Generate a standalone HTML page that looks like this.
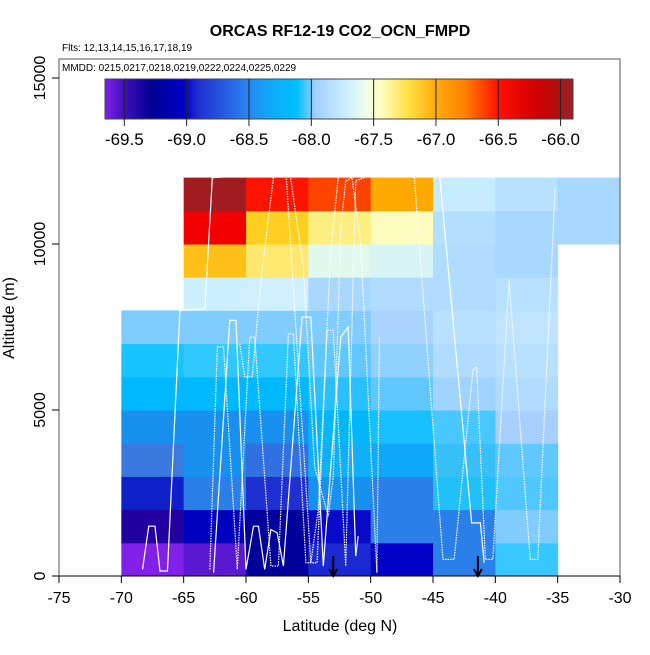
<!DOCTYPE html>
<html><head><meta charset="utf-8"><style>
body{margin:0;background:#fff;}
svg text{font-family:"Liberation Sans",sans-serif;}
</style></head><body>
<svg id="chart" width="650" height="650" xmlns="http://www.w3.org/2000/svg">
<defs>
<linearGradient id="cbg" x1="0" x2="1" y1="0" y2="0">
<stop offset="0" stop-color="#8020e8"/><stop offset="0.04" stop-color="#4010c0"/>
<stop offset="0.1" stop-color="#000090"/><stop offset="0.17" stop-color="#0000c8"/>
<stop offset="0.2" stop-color="#2030d0"/><stop offset="0.3" stop-color="#2a80f0"/>
<stop offset="0.35" stop-color="#10a8f8"/><stop offset="0.41" stop-color="#00c0ff"/>
<stop offset="0.45" stop-color="#a0d0ff"/><stop offset="0.52" stop-color="#d0f0ff"/>
<stop offset="0.56" stop-color="#f0ffe8"/><stop offset="0.59" stop-color="#ffffc0"/>
<stop offset="0.65" stop-color="#ffe040"/><stop offset="0.7" stop-color="#ffb010"/>
<stop offset="0.77" stop-color="#ff8000"/><stop offset="0.84" stop-color="#ff1000"/>
<stop offset="0.92" stop-color="#d00000"/><stop offset="0.972" stop-color="#b01010"/>
<stop offset="0.975" stop-color="#a01c20"/><stop offset="1" stop-color="#a01c20"/>
</linearGradient>
</defs>
<g id="cells"></g>
<g id="tracks"></g>
<g id="axes"></g>
<text x="340" y="36" text-anchor="middle" font-size="16" font-weight="bold">ORCAS RF12-19 CO2_OCN_FMPD</text>
<text x="62" y="51" font-size="10">Flts: 12,13,14,15,16,17,18,19</text>
<text x="62" y="71" font-size="10">MMDD: 0215,0217,0218,0219,0222,0224,0225,0229</text>
<text x="340" y="631" text-anchor="middle" font-size="16">Latitude (deg N)</text>
<text transform="translate(14,318) rotate(-90)" text-anchor="middle" font-size="16">Altitude (m)</text>
<g id="cbar"></g>
</svg>
<script>
const latBins=[-70,-65,-60,-55,-50,-45,-40,-35];
const altBins=[0,1000,2000,3000,4000,5000,6000,7000,8000,9000,10000,11000];
const cellColors=[
["#8020e8","#5a18d0","#00009a","#1a2ad0","#0000c8","#2a80e8","#38c8ff",null],
["#2000a0","#0000c0","#00009a","#0808c8","#2a80e8","#2a80e8","#80ccff",null],
["#1020c8","#2a80e8","#2030d0","#1890f0","#2a80e8","#20c0f8","#50c8ff",null],
["#3a7ae0","#1890f0","#3070e0","#10b0f8","#10a8f8","#38c0f8","#60c8ff",null],
["#1890f0","#1890f0","#1890f0","#00b8f8","#18c0ff","#48c8ff","#a8d0ff",null],
["#00b8ff","#00b8ff","#00b8ff","#28c0ff","#60c8ff","#a0d4ff","#b0dcff",null],
["#18c4ff","#30c8ff","#30c8ff","#60c8ff","#90d0ff","#b0dcff","#b8e0ff",null],
["#80ccff","#80ccff","#80ccff","#80ccff","#a8d4ff","#b8e0ff","#c0e4ff",null],
[null,"#ccf0ff","#d0f0ff","#a8d8ff","#b0dcff","#b0dcff","#b8e0ff",null],
[null,"#ffc018","#ffe870","#e0f8ee","#d8f4f4","#b0dcff","#a8d8ff",null],
[null,"#f00000","#ffd020","#ffee80","#fffcc0","#b4e0ff","#a8d8ff","#a8d8ff"],
[null,"#a01c20","#ff1400","#ff4400","#ffa800","#c8ecff","#b8e0ff","#a8d8ff"]
];
const xTicks=[-75,-70,-65,-60,-55,-50,-45,-40,-35,-30];
const yTicks=[0,5000,10000,15000];
const cbTicks=[-69.5,-69.0,-68.5,-68.0,-67.5,-67.0,-66.5,-66.0];
const arrowLats=[-53,-41.4];
const trackA=[[-68.3,200],[-67.8,1500],[-67.3,1500],[-66.9,150],[-66.3,150],[-65.3,8000],[-63.3,8050],[-62.7,12000],[-60.5,12050]];
const trackB=[[-62.9,200],[-62.3,6900],[-61.8,6900],[-60.7,200],[-59.7,7200],[-59.3,7200],[-58,300],[-57.4,300],[-56.6,7300],[-56.2,7300],[-55.2,400],[-54.3,400],[-53.5,7400],[-53,7400],[-52,300],[-51.2,11900],[-50.5,12000]];
const trackC=[[-62.6,100],[-61.3,7700],[-60.8,7700],[-60,200],[-59.4,1500],[-59,1500],[-58.5,200],[-58,1400],[-57.5,1300],[-57,300],[-55.5,7800],[-54.8,7800],[-53.8,300],[-52.4,7200],[-51.8,7500],[-51.2,600],[-51,1200]];
const trackD=[[-60.5,7000],[-60.1,6000],[-59.5,6000],[-58.8,8900],[-57.8,12000]];
const trackE=[[-56.5,12200],[-55.4,9300],[-54.5,3300],[-53.4,1800],[-53,3000],[-52.4,10500],[-52,11900],[-51.5,12000],[-50.8,10000],[-49.5,100],[-49.3,7200]];
const trackF=[[-46.5,12000],[-44.2,500],[-43.3,500],[-41.8,6200],[-41.5,6300],[-40.8,500],[-40.2,500],[-38.9,8900],[-37.2,500],[-36.6,500],[-35.2,11700]];
const trackG=[[-44.5,12200],[-41.9,1600],[-41.2,1600],[-40.9,400]];
const trackH=[[-56.8,12200],[-54.8,400],[-54.2,2000],[-53.2,9800],[-52.6,12000]];

const X=v=>59+(v+75)*(561/45);
const Y=v=>576-v*0.0332;
const NS="http://www.w3.org/2000/svg";
function mk(t,a,p){const e=document.createElementNS(NS,t);for(const k in a)e.setAttribute(k,a[k]);p.appendChild(e);return e;}

const cells=document.getElementById('cells');
cellColors.forEach((row,r)=>row.forEach((c,i)=>{
  if(!c)return;
  const r0=mk('rect',{x:X(latBins[i]),y:Y(altBins[r]+1000),width:X(latBins[i]+5)-X(latBins[i])+0.5,height:Y(altBins[r])-Y(altBins[r]+1000)+0.5,fill:c},cells);
  
  
}));

const tracks=document.getElementById('tracks');
[[trackA,''],[trackB,'1.5 1'],[trackC,''],[trackD,'1.5 1'],[trackE,'1.5 1'],[trackF,'1.5 1'],[trackG,''],[trackH,'1.5 1']].forEach(([t,d])=>{
  const p=mk('polyline',{points:t.map(q=>X(q[0])+','+Y(q[1])).join(' '),fill:'none',stroke:'#fff','stroke-width':1.2,'stroke-dasharray':d},tracks);
  
  
});

const ax=document.getElementById('axes');
mk('rect',{x:59,y:59,width:561,height:517,fill:'none',stroke:'#555','stroke-width':1},ax);
xTicks.forEach(v=>{
  mk('line',{x1:X(v),x2:X(v),y1:576,y2:583,stroke:'#000'},ax);
  const t=mk('text',{x:X(v),y:603,'text-anchor':'middle','font-size':16},ax);t.textContent=v;
  
  
});
mk('line',{x1:X(-75),x2:X(-30),y1:576,y2:576,stroke:'#000'},ax);
yTicks.forEach(v=>{
  mk('line',{x1:52,x2:59,y1:Y(v),y2:Y(v),stroke:'#000'},ax);
  const t=mk('text',{transform:`translate(45,${Y(v)}) rotate(-90)`,'text-anchor':'middle','font-size':16},ax);t.textContent=v;
  
  
});
arrowLats.forEach(v=>{
  const g=mk('g',{},ax);
  
  
  mk('line',{x1:X(v),x2:X(v),y1:556,y2:576,stroke:'#000','stroke-width':2},g);
  mk('polyline',{points:`${X(v)-4},569 ${X(v)},576 ${X(v)+4},569`,fill:'none',stroke:'#000','stroke-width':2},g);
});

const cb=document.getElementById('cbar');
const CX=v=>124.3+(v+69.5)*124.66;
mk('rect',{x:105,y:79,width:468,height:40,fill:'url(#cbg)',stroke:'#444','stroke-width':1},cb);
cbTicks.forEach(v=>{
  mk('line',{x1:CX(v),x2:CX(v),y1:79,y2:126,stroke:'#222','stroke-width':1},cb);
  const t=mk('text',{x:CX(v),y:145,'text-anchor':'middle','font-size':17},cb);t.textContent=v.toFixed(1);
  
  
});
</script>
</body></html>
